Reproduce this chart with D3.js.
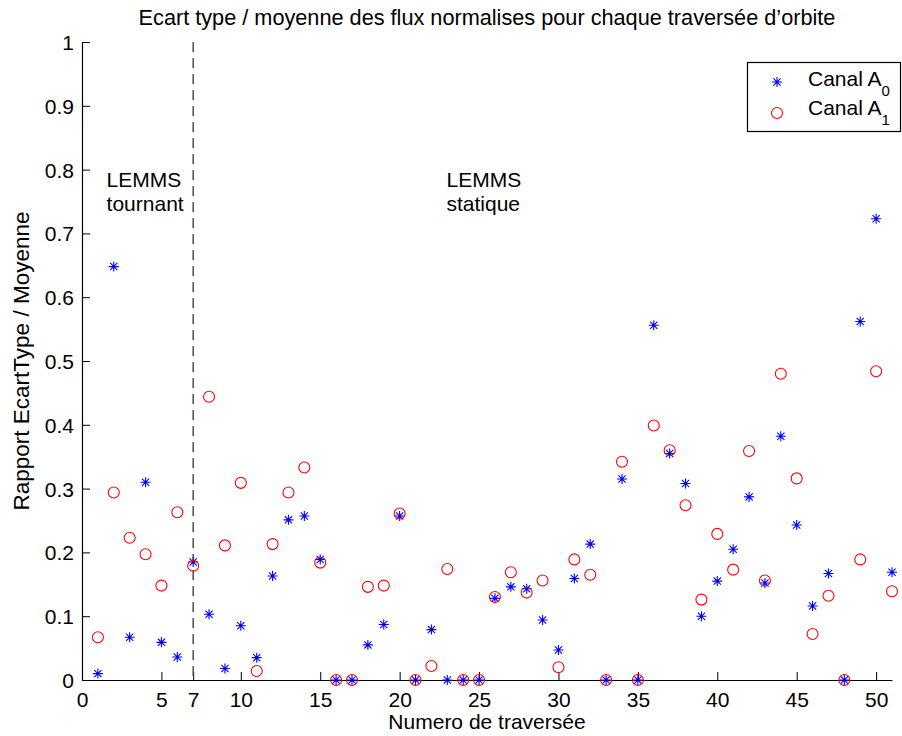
<!DOCTYPE html>
<html>
<head>
<meta charset="utf-8">
<script src="https://cdn.jsdelivr.net/npm/d3@7"></script>
<style>
  html, body { margin: 0; padding: 0; background: #fff; }
  svg { display: block; font-family: "Liberation Sans", Arial, Helvetica, sans-serif; }
</style>
</head>
<body>
<svg id="chart" width="902" height="736"></svg>
<script>
// Orbit crossing numbers
const traversals = d3.range(1, 52);

// Standard deviation / mean ratio, channel A0
const canalA0 = [
  0.010, 0.648, 0.067, 0.310, 0.059, 0.036, 0.185, 0.103, 0.018, 0.085,
  0.035, 0.163, 0.251, 0.257, 0.189, 0.000, 0.000, 0.055, 0.087, 0.257,
  0.000, 0.079, 0.000, 0.000, 0.000, 0.128, 0.146, 0.143, 0.094, 0.047,
  0.159, 0.213, 0.000, 0.315, 0.000, 0.556, 0.355, 0.308, 0.100, 0.155,
  0.205, 0.287, 0.152, 0.382, 0.243, 0.116, 0.167, 0.000, 0.562, 0.723,
  0.169
];

// Standard deviation / mean ratio, channel A1
const canalA1 = [
  0.067, 0.294, 0.223, 0.197, 0.148, 0.263, 0.179, 0.444, 0.211, 0.309,
  0.014, 0.213, 0.294, 0.333, 0.184, 0.000, 0.000, 0.146, 0.148, 0.261,
  0.000, 0.022, 0.174, 0.000, 0.000, 0.130, 0.169, 0.137, 0.156, 0.020,
  0.189, 0.165, 0.000, 0.342, 0.000, 0.399, 0.360, 0.274, 0.126, 0.229,
  0.173, 0.359, 0.156, 0.480, 0.316, 0.072, 0.132, 0.000, 0.189, 0.484,
  0.139
];

const xTicks = [0, 5, 7, 10, 15, 20, 25, 30, 35, 40, 45, 50];
const yTicks = [0, 0.1, 0.2, 0.3, 0.4, 0.5, 0.6, 0.7, 0.8, 0.9, 1];
const modeSwitch = 7;   // rotating -> static LEMMS

const svg = d3.select("#chart");
const m = { left: 82, right: 892, top: 42, bottom: 680 };
const FS = 21;

const x = d3.scaleLinear().domain([0, 51]).range([m.left, m.right]);
const y = d3.scaleLinear().domain([0, 1]).range([m.bottom, m.top]);

// Axes with inward ticks
const gx = svg.append("g").attr("transform", `translate(0,${m.bottom})`)
  .call(d3.axisBottom(x).tickValues(xTicks).tickFormat(d3.format("d"))
        .tickSizeInner(-8).tickSizeOuter(0));
const gy = svg.append("g").attr("transform", `translate(${m.left},0)`)
  .call(d3.axisLeft(y).tickValues(yTicks).tickFormat(d => d === 0 || d === 1 ? String(d) : d3.format(".1f")(d))
        .tickSizeInner(-8).tickSizeOuter(0));

[gx, gy].forEach(g => {
  g.select(".domain").attr("stroke", "#000").attr("stroke-width", 1.2);
  g.selectAll(".tick line").attr("stroke", "#000").attr("stroke-width", 1);
  g.selectAll(".tick text").attr("fill", "#000").attr("font-size", FS)
    .attr("font-family", "Liberation Sans, Arial, sans-serif");
});
gx.selectAll(".tick text").attr("y", 12).attr("dy", "0.71em");
gy.selectAll(".tick text").attr("x", -8).attr("dy", "0.36em");

// Dashed line marking the change of scanning mode
svg.append("line")
  .attr("x1", x(modeSwitch)).attr("x2", x(modeSwitch))
  .attr("y1", y(1)).attr("y2", y(0))
  .attr("stroke", "#444").attr("stroke-width", 1.4)
  .attr("stroke-dasharray", "10,6");

// Annotations
const note = (tx, ty, lines) => {
  const t = svg.append("text").attr("x", tx).attr("y", ty)
    .attr("font-size", FS).attr("fill", "#000");
  lines.forEach((s, i) => t.append("tspan").attr("x", tx).attr("dy", i ? 23.5 : 0).text(s));
};
note(x(1.55), y(0.772), ["LEMMS", "tournant"]);
note(x(22.95), y(0.772), ["LEMMS", "statique"]);

// Marker drawers
function star(g, r) {
  const d = r * 0.72;
  g.append("path")
    .attr("d", `M${-r},0H${r}M0,${-r}V${r}M${-d},${-d}L${d},${d}M${-d},${d}L${d},${-d}`)
    .attr("stroke", "#0000ff").attr("stroke-width", 1.1).attr("fill", "none");
}
function ring(g, r) {
  g.append("circle").attr("r", r)
    .attr("stroke", "#ff0000").attr("stroke-width", 1.1).attr("fill", "none");
}

const pts = svg.append("g");
traversals.forEach((t, i) => {
  star(pts.append("g").attr("transform", `translate(${x(t)},${y(canalA0[i])})`), 5);
});
traversals.forEach((t, i) => {
  ring(pts.append("g").attr("transform", `translate(${x(t)},${y(canalA1[i])})`), 5.5);
});

// Title
svg.append("text").attr("x", (m.left + m.right) / 2).attr("y", 25)
  .attr("text-anchor", "middle").attr("font-size", 21.7).attr("fill", "#000")
  .text("Ecart type / moyenne des flux normalises pour chaque traversée d’orbite");

// Axis labels
svg.append("text").attr("x", (m.left + m.right) / 2).attr("y", 729)
  .attr("text-anchor", "middle").attr("font-size", FS).attr("fill", "#000")
  .text("Numero de traversée");
svg.append("text").attr("transform", `translate(29,${(m.top + m.bottom) / 2}) rotate(-90)`)
  .attr("text-anchor", "middle").attr("font-size", 22.5).attr("fill", "#000")
  .text("Rapport EcartType / Moyenne");

// Legend
const lg = svg.append("g");
lg.append("rect").attr("x", 747.5).attr("y", 62.5).attr("width", 153).attr("height", 69)
  .attr("fill", "#fff").attr("stroke", "#000").attr("stroke-width", 1.2);
const entries = [
  { sub: "0", draw: star, r: 5, my: 82, ty: 86 },
  { sub: "1", draw: ring, r: 5.5, my: 113, ty: 115 }
];
entries.forEach(e => {
  e.draw(lg.append("g").attr("transform", `translate(777,${e.my})`), e.r);
  const t = lg.append("text").attr("x", 808).attr("y", e.ty).attr("font-size", FS).attr("fill", "#000");
  t.append("tspan").text("Canal A");
  t.append("tspan").attr("font-size", 15).attr("dy", 10).text(e.sub);
});
</script>
</body>
</html>
